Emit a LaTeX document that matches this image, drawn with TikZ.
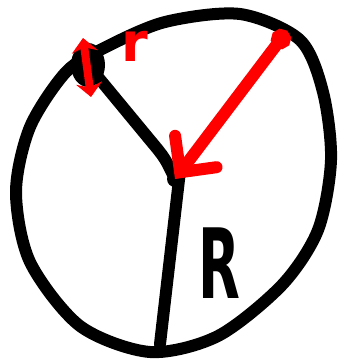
\documentclass[tikz,border=0pt]{standalone}
\usepackage{fontspec}
\usepackage{tikz}
\usetikzlibrary{arrows.meta}
\newfontfamily\handfont{DejaVu Sans}

\begin{document}
\begin{tikzpicture}[x=1pt,y=-1pt,
    ink/.style={line width=12pt,line cap=round,line join=round},
    redarrow/.style={red,line width=12pt,line cap=round}]
  \useasboundingbox (0,0) rectangle (342,361);

  \coordinate (ctr) at (175,179);
  \coordinate (knot) at (88,65);
  \coordinate (bend) at (150,140);
  \coordinate (foot) at (160,344);
  \coordinate (rim) at (287,31);

  % outline of the ball
  \draw[ink] plot[smooth cycle] coordinates
    {(66,72) (30,127) (16,192) (30,262) (80,326) (150,352) (218,336)
     (282,285) (318,230) (331,160) (323,92) (300,40) (240,14)
     (165,22) (104,48)};

  \draw[ink] (knot) -- (bend) .. controls (165,158) .. (ctr);
  \draw[ink] (ctr) -- ([xshift=5pt,yshift=8pt]ctr) -- (foot);
  \fill (ctr) circle (8);
  \fill (knot) ellipse (17 and 22);

  \draw[redarrow,
        {Straight Barb[length=26pt,width=52pt,line cap=round]}-{Circle[length=20pt]}]
    (ctr) -- (rim);
  \draw[red,line width=8pt,
        {Stealth[length=14pt,width=26pt]}-{Stealth[length=14pt,width=26pt]}]
    (83,38) -- (91,97);

  \node[red,font=\handfont\bfseries\fontsize{54}{54}\selectfont] (rlabel) at (135,46) {r};
  \node[font=\handfont\bfseries\fontsize{97}{97}\selectfont] (Rlabel) at (219,263)
    {\scalebox{0.56}[1]{R}};
\end{tikzpicture}
\end{document}
